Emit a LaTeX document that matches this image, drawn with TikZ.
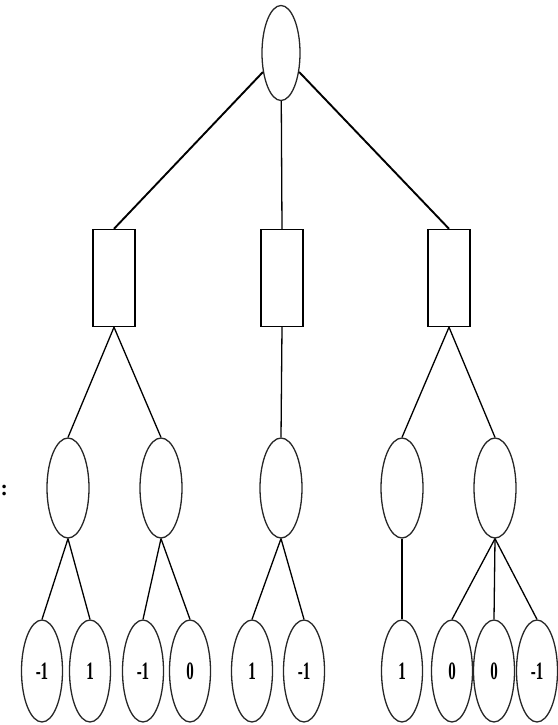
\documentclass[tikz,border=0pt]{standalone}
\usepackage{graphicx}
\usepackage{fontspec}
\newfontfamily\labelfont{Liberation Serif}
\usetikzlibrary{shapes.geometric}
\begin{document}
\begin{tikzpicture}[x=1pt,y=-1pt,
  oval/.style={draw=black!85,line width=1.3pt,ellipse,inner sep=0pt,
    minimum width=42pt,minimum height=100pt},
  rootoval/.style={oval,minimum width=38pt,minimum height=95pt},
  leaf/.style={oval,minimum width=41pt,minimum height=102pt,
    font=\labelfont\fontsize{25}{25}\selectfont\bfseries},
  boxnode/.style={draw=black,line width=1.4pt,rectangle,inner sep=0pt,
    minimum width=42pt,minimum height=97pt},
  topedge/.style={draw=black,line width=1.9pt},
  edge/.style={draw=black,line width=1.3pt}]
\useasboundingbox (0,0) rectangle (557,725);
\newcommand{\lbl}[1]{\scalebox{0.6}[1]{#1}}

% root
\node[rootoval] (root) at (281,53) {};

% second level boxes
\node[boxnode] (b1) at (114,278) {};
\node[boxnode] (b2) at (282,278) {};
\node[boxnode] (b3) at (449,278) {};

% third level ovals
\node[oval] (c1) at (68,488) {};
\node[oval] (c2) at (161,488) {};
\node[oval] (c3) at (281,488) {};
\node[oval] (c4) at (402,488) {};
\node[oval] (c5) at (495,488) {};

% leaves
\node[leaf] (l1) at (42,671) {\lbl{-1}};
\node[leaf] (l2) at (90,671) {\lbl{1}};
\node[leaf] (l3) at (143,671) {\lbl{-1}};
\node[leaf] (l4) at (190,671) {\lbl{0}};
\node[leaf] (l5) at (252,671) {\lbl{1}};
\node[leaf] (l6) at (304,671) {\lbl{-1}};
\node[leaf] (l7) at (402,671) {\lbl{1}};
\node[leaf] (l8) at (452,671) {\lbl{0}};
\node[leaf] (l9) at (494,671) {\lbl{0}};
\node[leaf] (l10) at (537,671) {\lbl{-1}};

% side mark
\node[font=\labelfont\fontsize{22}{22}\selectfont\bfseries,inner sep=0pt,anchor=west] (mark) at (0.5,490) {:};

% connectors
\draw[topedge] (root) -- (b1.north);
\draw[edge] (root) -- (b2.north);
\draw[topedge] (root) -- (b3.north);

\draw[edge] (b1.south) -- (c1.north);
\draw[edge] (b1.south) -- (c2.north);
\draw[edge] (b2.south) -- (c3.north);
\draw[edge] (b3.south) -- (c4.north);
\draw[edge] (b3.south) -- (c5.north);

\draw[edge] (c1.south) -- (l1.north);
\draw[edge] (c1.south) -- (l2.north);
\draw[edge] (c2.south) -- (l3.north);
\draw[edge] (c2.south) -- (l4.north);
\draw[edge] (c3.south) -- (l5.north);
\draw[edge] (c3.south) -- (l6.north);
\draw[edge] (c4.south) -- (l7.north);
\draw[edge] (c5.south) -- (l8.north);
\draw[edge] (c5.south) -- (l9.north);
\draw[edge] (c5.south) -- (l10.north);
\end{tikzpicture}
\end{document}
